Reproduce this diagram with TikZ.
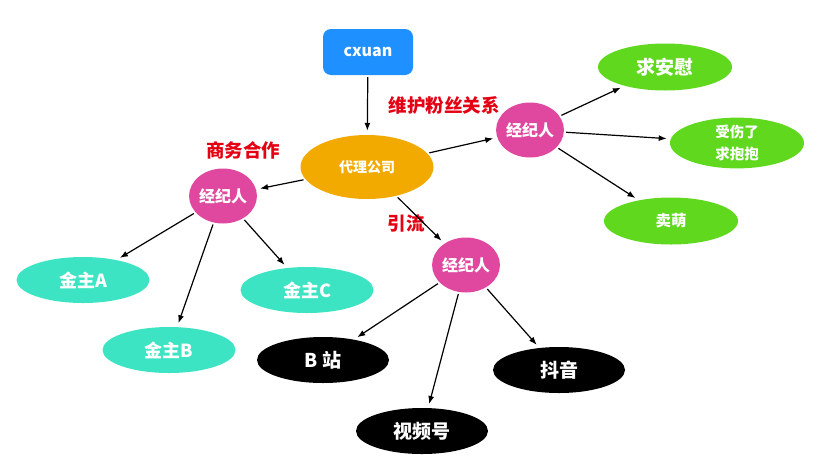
\documentclass[tikz,border=0pt]{standalone}
\usepackage{fontspec}
\newfontfamily\cjk{Noto Sans CJK SC}
\usetikzlibrary{arrows.meta}
\usetikzlibrary{shapes.geometric}
\definecolor{mblue}{RGB}{30,144,255}
\definecolor{morange}{RGB}{242,170,0}
\definecolor{mpink}{RGB}{224,71,158}
\definecolor{mteal}{RGB}{60,228,195}
\definecolor{mgreen}{RGB}{95,216,30}
\definecolor{mred}{RGB}{228,0,18}
\tikzset{blob/.style = {ellipse, inner sep = 0, text = white, align = center,
                        font = \cjk\bfseries\fontsize{18}{21}\selectfont}}
\tikzset{agent/.style = {blob, fill = mpink, minimum width = 65pt, minimum height = 55pt,
                         font = \cjk\bfseries\fontsize{16}{19}\selectfont}}
\tikzset{sponsor/.style = {blob, fill = mteal, minimum width = 133pt, minimum height = 46pt}}
\tikzset{fans/.style = {blob, fill = mgreen, minimum width = 134pt, minimum height = 47pt}}
\tikzset{site/.style = {blob, fill = black, minimum width = 132pt, minimum height = 46pt,
                        font = \cjk\bfseries\fontsize{19}{22}\selectfont}}
\tikzset{tag/.style = {text = mred, font = \cjk\bfseries\fontsize{18.5}{21}\selectfont}}
\tikzset{link/.style = {-{Latex[length=8pt, width=6pt]}, line width = 1.2pt,
                        shorten > = 4pt, shorten < = 2pt}}

\begin{document}
\begin{tikzpicture}[x=1pt, y=-1pt]
  \useasboundingbox (0, 0) rectangle (837, 469);

  \node [rectangle, rounded corners = 8pt, fill = mblue, text = white, minimum width = 90pt,
         minimum height = 46pt, font = \cjk\bfseries\fontsize{16}{19}\selectfont] (cxuan) at (368, 52) {cxuan};
  \node [blob, fill = morange, minimum width = 133pt, minimum height = 64pt,
         font = \cjk\bfseries\fontsize{14}{17}\selectfont] (agency) at (367, 167) {代理公司};

  \node [agent] (bizagent) at (223, 196) {经纪人};
  \node [agent] (fanagent) at (530, 130) {经纪人};
  \node [agent] (flowagent) at (466, 265) {经纪人};

  % sponsors
  \node [sponsor] (sponsorA) at (83, 280) {金主A};
  \node [sponsor] (sponsorB) at (169, 350) {金主B};
  \node [sponsor] (sponsorC) at (307, 290) {金主C};

  % fans
  \node [fans, font = \cjk\bfseries\fontsize{19}{22}\selectfont] (comfort) at (665, 67) {求安慰};
  \node [fans, font = \cjk\bfseries\fontsize{14.5}{22}\selectfont] (hug) at (737, 143) {受伤了\\求抱抱};
  \node [fans, font = \cjk\bfseries\fontsize{15.5}{18}\selectfont] (cute) at (671, 221) {卖萌};

  % platforms
  \node [site] (bili) at (323, 360) {B 站};
  \node [site] (video) at (422, 431) {视频号};
  \node [site] (douyin) at (559, 370) {抖音};

  \node [tag] (biz) at (243, 150) {商务合作};
  \node [tag] (fan) at (444, 105) {维护粉丝关系};
  \node [tag] (flow) at (406, 223) {引流};

  \draw [link] (cxuan) -- (agency);
  \draw [link] (agency) -- (bizagent);
  \draw [link] (agency) -- (fanagent);
  \draw [link] (agency) -- (flowagent);

  \draw [link] (bizagent) -- (sponsorA);
  \draw [link] (bizagent) -- (sponsorB);
  \draw [link] (bizagent) -- (sponsorC);

  \draw [link] (fanagent) -- (comfort);
  \draw [link] (fanagent) -- (hug);
  \draw [link] (fanagent) -- (cute);

  \draw [link] (flowagent) -- (bili);
  \draw [link] (flowagent) -- (video);
  \draw [link] (flowagent) -- (douyin);
\end{tikzpicture}
\end{document}
